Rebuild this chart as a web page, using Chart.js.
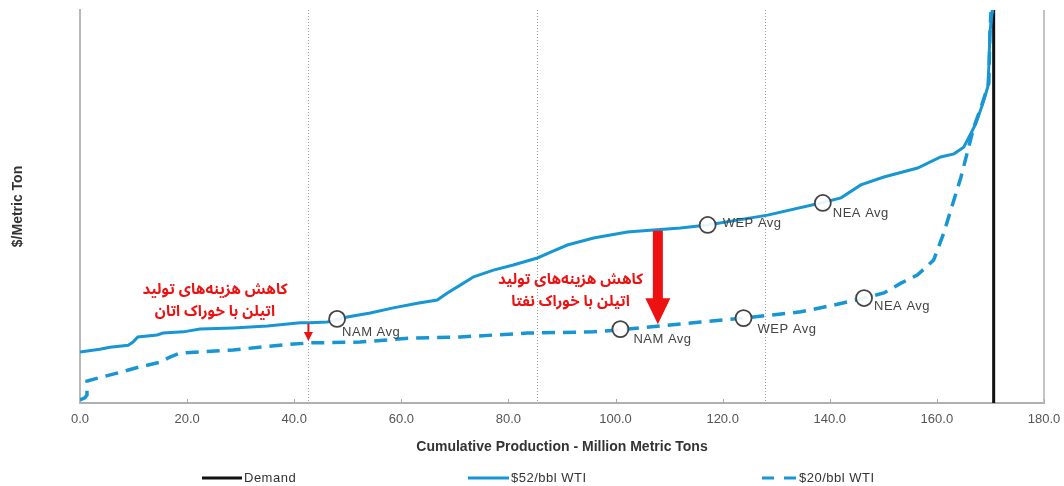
<!DOCTYPE html>
<html><head><meta charset="utf-8">
<script src="https://cdn.jsdelivr.net/npm/chart.js@4.4.1/dist/chart.umd.min.js"></script>
<style>html,body{margin:0;padding:0;background:#fff;}#wrap{width:1064px;height:486px;position:relative;}</style>
</head><body><div id="wrap"><canvas id="c" width="1064" height="486"></canvas></div>
<script>
// ---- data ----
const seriesNames = ['Demand', '$52/bbl WTI', '$20/bbl WTI'];
const demandX = 170.6;
const xTicks = [0, 20, 40, 60, 80, 100, 120, 140, 160, 180];
const highX = [0, 3.7, 5.6, 9.0, 9.9, 10.8, 14.4, 15.5, 19.3, 22.4, 28.6, 35.0, 41.1, 43.0, 46.2, 49.9, 54.2, 58.5, 63.0, 66.7, 68.6, 71.0, 73.5, 77.2, 80.9, 85.4, 87.9, 91.0, 95.9, 102.2, 107.1, 112.1, 117.2, 128.4, 138.3, 142.1, 145.8, 150.1, 156.4, 160.7, 163.2, 165.0, 166.4, 167.3, 168.6, 169.5, 169.7, 169.9, 170.3, 170.4];
const highY = [13.0, 13.7, 14.2, 14.7, 15.5, 16.8, 17.3, 17.8, 18.1, 18.8, 19.1, 19.6, 20.4, 20.4, 20.6, 21.9, 22.9, 24.2, 25.4, 26.2, 28.0, 30.0, 32.1, 33.8, 35.1, 36.9, 38.4, 40.2, 42.0, 43.5, 44.0, 44.5, 45.3, 47.8, 50.9, 52.2, 55.5, 57.5, 59.8, 62.6, 63.4, 65.1, 68.7, 71.2, 76.3, 80.4, 85.5, 94.1, 99.5, 100];
const lowX = [0, 0.9, 1.3, 1.3, 6.9, 11.2, 15.0, 16.8, 18.7, 22.4, 28.6, 37.9, 43.0, 52.3, 61.7, 71.0, 83.6, 95.9, 100.9, 109.7, 115.9, 123.9, 134.6, 140.7, 146.4, 150.1, 153.3, 156.4, 159.4, 161.3, 162.6, 164.5, 165.8, 166.9, 168.2, 169.7, 169.9, 170.1];
const lowY = [0.8, 1.3, 2.0, 5.6, 7.6, 9.2, 10.4, 11.7, 12.7, 13.0, 13.5, 14.8, 15.3, 15.5, 16.5, 16.8, 17.8, 18.1, 18.6, 19.8, 20.6, 21.6, 23.2, 24.9, 26.7, 28.0, 30.5, 32.6, 36.4, 43.3, 49.1, 57.5, 64.4, 70.2, 75.1, 81.4, 94.1, 99.5];
const avgLabels = ['NAM Avg', 'WEP Avg', 'NEA Avg'];
const highAvgX = [48.0, 117.2, 138.7];
const highAvgY = [21.4, 45.3, 50.9];
const lowAvgX = [100.9, 123.9, 146.4];
const lowAvgY = [18.8, 21.6, 26.7];
const arrowX = [demandX / 4, 107.9];
const noteLines = [
  ['کاهش هزینه‌های تولید', 'اتیلن با خوراک اتان'],
  ['کاهش هزینه‌های تولید', 'اتیلن با خوراک نفتا']
];
const quartiles = [1, 2, 3];

// ---- styles / layout (not data) ----
const BLUE = '#1896d3';
const RED = '#ee1111';
const GRAYTXT = '#444';
const FONT = '"Liberation Sans", Arial, sans-serif';
const highLabelOff = [[5, 14], [15, -2], [10, 10]];
const lowLabelOff = [[13, 10], [14, 11], [10, 8]];
const noteAnchor = [{x: 25.2, y: 28.2}, {x: 91.6, y: 30.8}];
const noteLineGap = 22;
const arrowStyle = [{shaft: 2, head: 9, headLen: 9}, {shaft: 10, head: 25, headLen: 26}];
const legendPos = [{x: 202, len: 40}, {x: 468, len: 41}, {x: 762, len: 35}];
const legendY = 478;

const zip = (xs, ys) => xs.map((x, i) => ({x, y: ys[i]}));

function interp(xs, ys, x) {
  for (let i = 1; i < xs.length; i++) {
    if (xs[i] >= x) {
      const t = xs[i] === xs[i - 1] ? 1 : (x - xs[i - 1]) / (xs[i] - xs[i - 1]);
      return ys[i - 1] + t * (ys[i] - ys[i - 1]);
    }
  }
  return ys[ys.length - 1];
}

const decor = {
  id: 'decor',
  beforeDatasetsDraw(chart) {
    const {ctx, chartArea: a, scales: {x}} = chart;
    ctx.save();
    ctx.strokeStyle = '#9a9a9a';
    ctx.lineWidth = 1;
    ctx.setLineDash([1, 2]);
    quartiles.forEach(q => {
      const px = Math.round(x.getPixelForValue(demandX * q / 4)) + 0.5;
      ctx.beginPath(); ctx.moveTo(px, a.top); ctx.lineTo(px, a.bottom); ctx.stroke();
    });
    ctx.setLineDash([]);
    ctx.strokeStyle = '#c4c4c4';
    ctx.lineWidth = 2;
    ctx.beginPath(); ctx.moveTo(a.right, a.top); ctx.lineTo(a.right, a.bottom); ctx.stroke();
    ctx.strokeStyle = '#aaa';
    ctx.lineWidth = 1;
    xTicks.forEach(t => {
      const px = Math.round(x.getPixelForValue(t)) + 0.5;
      ctx.beginPath(); ctx.moveTo(px, a.bottom); ctx.lineTo(px, a.bottom - 4); ctx.stroke();
    });
    ctx.restore();
  },
  afterDatasetsDraw(chart) {
    const {ctx, scales: {x, y}} = chart;
    ctx.save();
    arrowX.forEach((ax, i) => {
      const st = arrowStyle[i];
      const px = x.getPixelForValue(ax);
      const y0 = y.getPixelForValue(interp(highX, highY, ax)) + 1;
      const y1 = y.getPixelForValue(interp(lowX, lowY, ax)) - 2;
      ctx.fillStyle = RED;
      ctx.beginPath();
      ctx.moveTo(px - st.shaft / 2, y0);
      ctx.lineTo(px + st.shaft / 2, y0);
      ctx.lineTo(px + st.shaft / 2, y1 - st.headLen);
      ctx.lineTo(px + st.head / 2, y1 - st.headLen);
      ctx.lineTo(px, y1);
      ctx.lineTo(px - st.head / 2, y1 - st.headLen);
      ctx.lineTo(px - st.shaft / 2, y1 - st.headLen);
      ctx.closePath();
      ctx.fill();
    });
    ctx.fillStyle = RED;
    ctx.font = 'bold 15px "Noto Sans Arabic", "DejaVu Sans", sans-serif';
    ctx.textAlign = 'center';
    ctx.textBaseline = 'middle';
    ctx.direction = 'rtl';
    noteLines.forEach((lines, i) => {
      const px = x.getPixelForValue(noteAnchor[i].x);
      const py = y.getPixelForValue(noteAnchor[i].y);
      lines.forEach((s, k) => ctx.fillText(s, px, py + k * noteLineGap));
    });
    ctx.direction = 'ltr';
    ctx.fillStyle = GRAYTXT;
    ctx.font = '13px ' + FONT;
    ctx.textAlign = 'left';
    try { ctx.letterSpacing = '0.5px'; } catch (e) {}
    avgLabels.forEach((lab, i) => {
      ctx.fillText(lab, x.getPixelForValue(highAvgX[i]) + highLabelOff[i][0], y.getPixelForValue(highAvgY[i]) + highLabelOff[i][1]);
      ctx.fillText(lab, x.getPixelForValue(lowAvgX[i]) + lowLabelOff[i][0], y.getPixelForValue(lowAvgY[i]) + lowLabelOff[i][1]);
    });
    ctx.restore();
  },
  afterDraw(chart) {
    const {ctx} = chart;
    const ds = chart.data.datasets;
    ctx.save();
    ctx.font = '13px ' + FONT;
    ctx.textBaseline = 'middle';
    ctx.textAlign = 'left';
    try { ctx.letterSpacing = '0.5px'; } catch (e) {}
    seriesNames.forEach((name, i) => {
      const d = ds.find(s => s.label === name);
      const p = legendPos[i];
      ctx.strokeStyle = d.borderColor;
      ctx.lineWidth = 3;
      ctx.setLineDash(d.borderDash ? [12, 10] : []);
      ctx.beginPath(); ctx.moveTo(p.x, legendY); ctx.lineTo(p.x + p.len, legendY); ctx.stroke();
      ctx.setLineDash([]);
      ctx.fillStyle = '#333';
      ctx.fillText(name, p.x + p.len + 2, legendY);
    });
    ctx.restore();
  }
};

new Chart(document.getElementById('c'), {
  type: 'line',
  data: {
    datasets: [
      {label: 'high avg', data: zip(highAvgX, highAvgY), showLine: false, pointRadius: 8, pointBackgroundColor: 'rgba(255,255,255,0.9)', pointBorderColor: '#444', pointBorderWidth: 1.8, order: 0},
      {label: 'low avg', data: zip(lowAvgX, lowAvgY), showLine: false, pointRadius: 8, pointBackgroundColor: 'rgba(255,255,255,0.9)', pointBorderColor: '#444', pointBorderWidth: 1.8, order: 0},
      {label: seriesNames[0], data: [{x: demandX, y: 0}, {x: demandX, y: 100}], borderColor: '#111', borderWidth: 3, pointRadius: 0, order: 3},
      {label: seriesNames[1], data: zip(highX, highY), borderColor: BLUE, borderWidth: 3, pointRadius: 0, tension: 0, order: 1},
      {label: seriesNames[2], data: zip(lowX, lowY), borderColor: BLUE, borderWidth: 3.5, borderDash: [13, 8], pointRadius: 0, tension: 0, order: 2}
    ]
  },
  options: {
    responsive: false,
    animation: false,
    devicePixelRatio: 1,
    layout: {padding: {left: 10, right: 20, top: 10, bottom: 30}},
    plugins: {legend: {display: false}, tooltip: {enabled: false}},
    scales: {
      x: {
        type: 'linear', min: 0, max: 180,
        afterBuildTicks: s => { s.ticks = xTicks.map(v => ({value: v})); },
        afterFit: s => { s.height = 53; s.paddingLeft = 0; s.paddingRight = 0; },
        ticks: {callback: v => Number(v).toFixed(1), color: '#555', font: {family: FONT, size: 13}, padding: 9, maxRotation: 0, autoSkip: false},
        grid: {drawOnChartArea: false, drawTicks: false},
        border: {display: true, color: '#b0b0b0', width: 2},
        title: {display: true, text: 'Cumulative Production - Million Metric Tons', color: '#333', font: {family: FONT, size: 14, weight: 'bold'}, padding: 0}
      },
      y: {
        min: 0, max: 100,
        afterFit: s => { s.width = 70; s.paddingTop = 0; s.paddingBottom = 0; },
        ticks: {display: false},
        grid: {drawOnChartArea: false, drawTicks: false},
        border: {display: true, color: '#b8b8b8', width: 2},
        title: {display: true, text: '$/Metric Ton', color: '#333', font: {family: FONT, size: 14, weight: 'bold'}, padding: 0}
      }
    }
  },
  plugins: [decor]
});
</script>
</body></html>
